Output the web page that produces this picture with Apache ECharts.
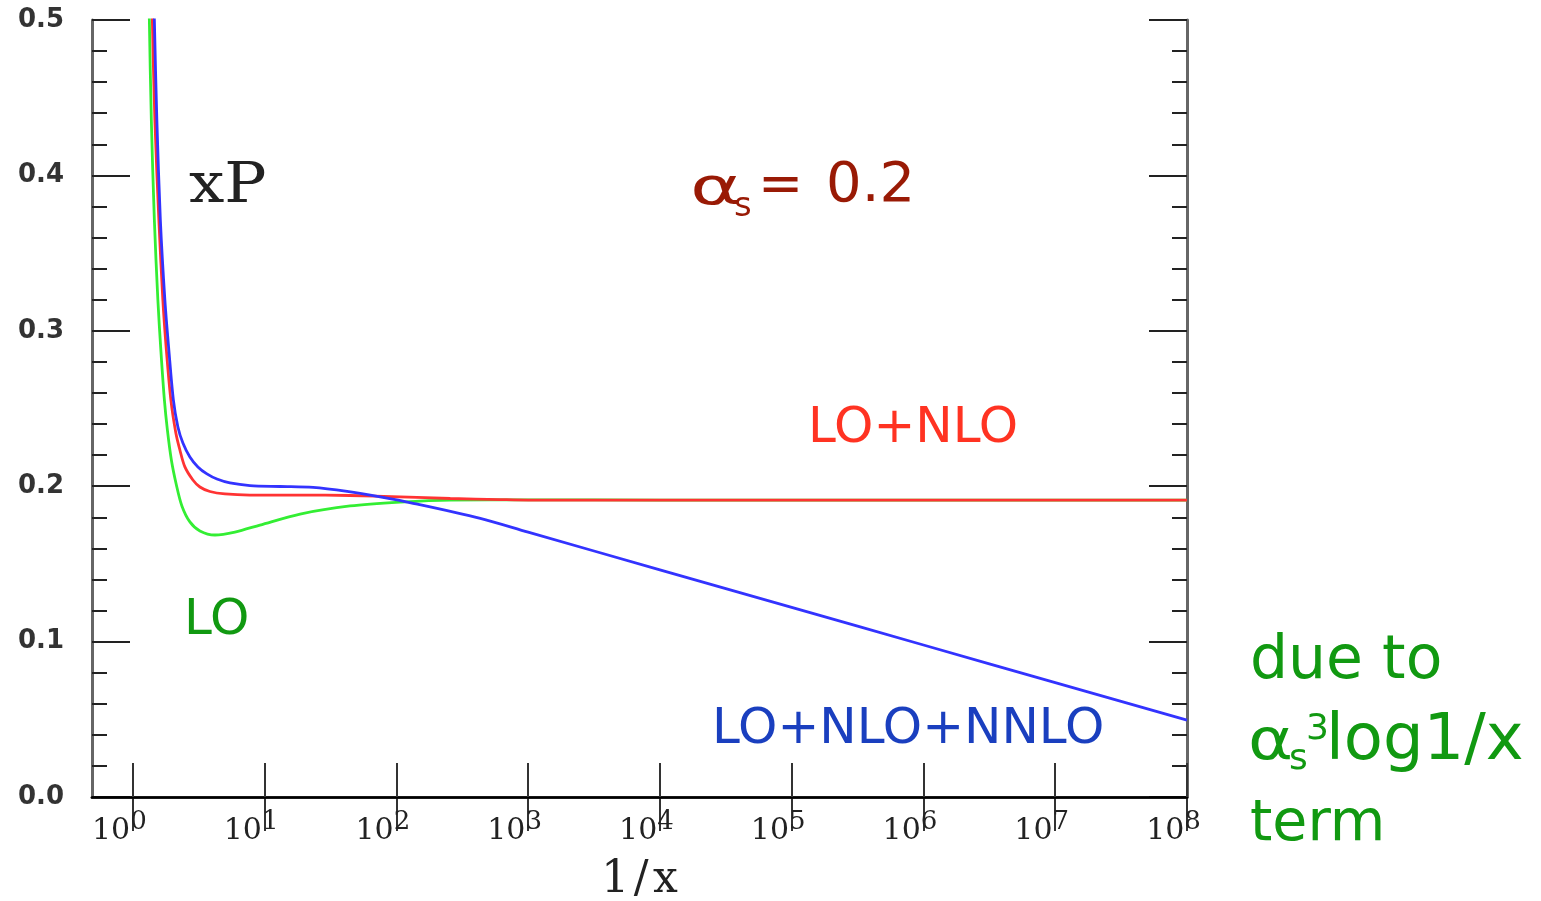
<!DOCTYPE html>
<html><head><meta charset="utf-8">
<script src="https://cdn.jsdelivr.net/npm/echarts@6/dist/echarts.min.js"></script>
<style>html,body{margin:0;padding:0;background:#fff}#c{width:1541px;height:901px}</style>
</head><body><div id="c"></div>
<script>
// tick values
const decadeTicks = [1, 10, 100, 1e3, 1e4, 1e5, 1e6, 1e7, 1e8];
const yTickValues = [0, 0.1, 0.2, 0.3, 0.4, 0.5];

// LO (green)
const loInvX = [1.318, 1.335, 1.382, 1.457, 1.549, 1.632, 1.736, 1.829, 1.961, 2.141, 2.357, 2.711, 3.229, 4.199, 5.958, 9.226, 18.58, 44.56, 106.9, 256.4, 1e3, 1e4, 1e5, 1e6, 1e7, 1e8];
const loY    = [0.539, 0.500, 0.4357, 0.3713, 0.3198, 0.2876, 0.2555, 0.2362, 0.2169, 0.2008, 0.1873, 0.1770, 0.1712, 0.1686, 0.1705, 0.1750, 0.1821, 0.1873, 0.1898, 0.1911, 0.1912, 0.1911, 0.1911, 0.1911, 0.1911, 0.1911];

// LO+NLO (red)
const nloInvX = [1.382, 1.407, 1.470, 1.576, 1.690, 1.797, 1.944, 2.121, 2.276, 2.484, 2.857, 3.229, 3.847, 5.002, 7.746, 18.58, 44.56, 106.9, 256.4, 615.0, 1e3, 1e4, 1e5, 1e6, 1e7, 1e8];
const nloY    = [0.539, 0.500, 0.4357, 0.3713, 0.3198, 0.2876, 0.2555, 0.2342, 0.2233, 0.2124, 0.2040, 0.1995, 0.1966, 0.1950, 0.1943, 0.1943, 0.1940, 0.1931, 0.1921, 0.1914, 0.1911, 0.1911, 0.1911, 0.1911, 0.1911, 0.1911];

// LO+NLO+NNLO (blue)
const nnloInvX = [1.432, 1.457, 1.522, 1.618, 1.751, 1.877, 2.031, 2.198, 2.399, 2.711, 3.118, 3.650, 4.348, 5.459, 7.746, 13.09, 23.33, 42.28, 75.33, 134.2, 433.4, 1e3, 1e4, 1e5, 1e6, 1e7, 1e8];
const nnloY    = [0.539, 0.500, 0.4357, 0.3713, 0.3198, 0.2876, 0.2555, 0.2381, 0.2278, 0.2188, 0.2124, 0.2079, 0.2046, 0.2021, 0.2004, 0.1998, 0.1992, 0.1966, 0.1931, 0.1890, 0.1793, 0.1704, 0.1462, 0.1220, 0.0978, 0.0736, 0.0495];

const pairs = (xs, ys) => xs.map((v, i) => [v, ys[i]]);

const chart = echarts.init(document.getElementById('c'));
const serif = '"DejaVu Serif", serif';
const sans = '"DejaVu Sans", sans-serif';

const yAxisBase = {
  type: 'value', min: 0, max: 0.5, interval: 0.1,
  axisLine: { show: true, lineStyle: { color: '#666', width: 3 } },
  axisTick: { show: true, inside: true, length: 38, lineStyle: { color: '#222', width: 2 } },
  minorTick: { show: true, splitNumber: 5, length: 15, lineStyle: { color: '#222', width: 2 } },
  splitLine: { show: false }
};
const xAxisBase = {
  type: 'log', logBase: 10, min: 0.49, max: 1e8,
  axisTick: { show: true, inside: true, length: 34, customValues: decadeTicks, lineStyle: { color: '#333', width: 2 } },
  splitLine: { show: false }, minorTick: { show: false }
};

chart.setOption({
  animation: false,
  backgroundColor: '#fff',
  grid: { left: 92, right: 354, top: 20, bottom: 104, containLabel: false, outerBoundsMode: 'none' },
  xAxis: [
    Object.assign({}, xAxisBase, {
      position: 'bottom', z: 3,
      axisLine: { show: true, lineStyle: { color: '#000', width: 2.5 } },
      axisLabel: {
        show: true, margin: 12, customValues: decadeTicks,
        formatter: v => '{b|10}{s|' + Math.round(Math.log10(v)) + '}',
        rich: {
          b: { fontFamily: serif, fontSize: 30, color: '#222', verticalAlign: 'bottom' },
          s: { fontFamily: serif, fontSize: 26, color: '#222', verticalAlign: 'bottom', padding: [0, 27, 11, 0] }
        }
      },
      name: '1\u200A/\u200Ax', nameLocation: 'middle', nameGap: 62,
      nameTextStyle: { fontFamily: serif, fontSize: 44, color: '#222' }
    }),
    Object.assign({}, xAxisBase, {
      position: 'top',
      axisLine: { show: true, lineStyle: { color: '#666', width: 3 } },
      axisLabel: { show: false }
    })
  ],
  yAxis: [
    Object.assign({}, yAxisBase, {
      position: 'left',
      axisLabel: { show: true, margin: 28, fontFamily: sans, fontWeight: 'bold', fontSize: 26, color: '#333',
        formatter: v => v.toFixed(1) }
    }),
    Object.assign({}, yAxisBase, { position: 'right', axisLabel: { show: false } })
  ],
  series: [
    { type: 'line', name: 'LO', data: pairs(loInvX, loY), symbol: 'none', smooth: 0.3, clip: true,
      lineStyle: { color: '#33ee33', width: 2.8 } },
    { type: 'line', name: 'LO+NLO', data: pairs(nloInvX, nloY), symbol: 'none', smooth: 0.3, clip: true,
      lineStyle: { color: '#ff3333', width: 2.8 } },
    { type: 'line', name: 'LO+NLO+NNLO', data: pairs(nnloInvX, nnloY), symbol: 'none', smooth: 0.3, clip: true,
      lineStyle: { color: '#3333ff', width: 2.8 } }
  ],
  graphic: [
    { type: 'text', x: 189, y: 187, scaleX: 1.12, style: { text: 'xP', font: '56px ' + serif, fill: '#222', verticalAlign: 'middle' } },
    { type: 'text', x: 690, y: 190, scaleX: 1.5, style: { text: 'α', font: '52px ' + sans, fill: '#991a05', verticalAlign: 'middle' } },
    { type: 'text', x: 734, y: 207, style: { text: 's', font: '34px ' + sans, fill: '#991a05', verticalAlign: 'middle' } },
    { type: 'text', x: 758, y: 187, style: { text: '=', font: '54px ' + sans, fill: '#991a05', verticalAlign: 'middle' } },
    { type: 'text', x: 826, y: 186, style: { text: '0.2', font: '56px ' + sans, fill: '#991a05', verticalAlign: 'middle' } },
    { type: 'text', x: 808, y: 429, style: { text: 'LO+NLO', font: '50px ' + sans, fill: '#ff3322', verticalAlign: 'middle' } },
    { type: 'text', x: 184, y: 621, style: { text: 'LO', font: '50px ' + sans, fill: '#119911', verticalAlign: 'middle' } },
    { type: 'text', x: 712, y: 730, style: { text: 'LO+NLO+NNLO', font: '50px ' + sans, fill: '#1a3fbf', verticalAlign: 'middle' } },
    { type: 'text', x: 1250, y: 662, style: { text: 'due to', font: '60px ' + sans, fill: '#119911', verticalAlign: 'middle' } },
    { type: 'text', x: 1248, y: 744, scaleX: 1.2, style: { text: 'α', font: '57px ' + sans, fill: '#119911', verticalAlign: 'middle' } },
    { type: 'text', x: 1289, y: 760, style: { text: 's', font: '36px ' + sans, fill: '#119911', verticalAlign: 'middle' } },
    { type: 'text', x: 1306, y: 730, style: { text: '3', font: '36px ' + sans, fill: '#119911', verticalAlign: 'middle' } },
    { type: 'text', x: 1326, y: 742, style: { text: 'log1/x', font: '64px ' + sans, fill: '#119911', verticalAlign: 'middle' } },
    { type: 'text', x: 1250, y: 825, style: { text: 'term', font: '57px ' + sans, fill: '#119911', verticalAlign: 'middle' } }
  ]
});
</script>
</body></html>
